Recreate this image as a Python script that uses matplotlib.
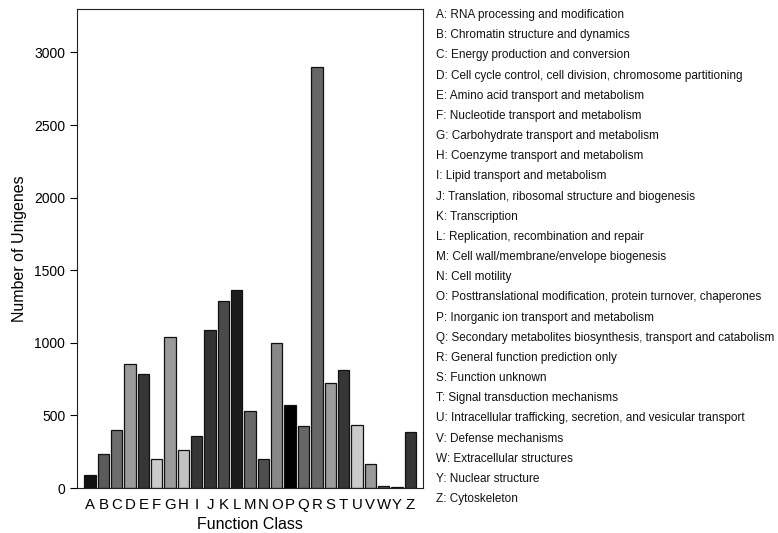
import matplotlib.pyplot as plt

plt.rcParams['font.family'] = ['Liberation Sans', 'DejaVu Sans']

# COG function classes
classes = ['A', 'B', 'C', 'D', 'E', 'F', 'G', 'H', 'I', 'J', 'K', 'L', 'M',
           'N', 'O', 'P', 'Q', 'R', 'S', 'T', 'U', 'V', 'W', 'Y', 'Z']
counts = [92, 234, 398, 851, 782, 198, 1037, 265, 359, 1085, 1285, 1366, 529,
          202, 1000, 570, 430, 2897, 720, 816, 432, 168, 14, 7, 388]
greys = ['#111111', '#5a5a5a', '#6c6c6c', '#9a9a9a', '#363636', '#cacaca',
         '#9a9a9a', '#c2c2c2', '#363636', '#333333', '#4a4a4a', '#1c1c1c',
         '#686868', '#4e4e4e', '#888888', '#000000', '#666666', '#666666',
         '#9c9c9c', '#363636', '#cacaca', '#9a9a9a', '#5a5a5a', '#444444',
         '#363636']
descriptions = [
    'RNA processing and modification',
    'Chromatin structure and dynamics',
    'Energy production and conversion',
    'Cell cycle control, cell division, chromosome partitioning',
    'Amino acid transport and metabolism',
    'Nucleotide transport and metabolism',
    'Carbohydrate transport and metabolism',
    'Coenzyme transport and metabolism',
    'Lipid transport and metabolism',
    'Translation, ribosomal structure and biogenesis',
    'Transcription',
    'Replication, recombination and repair',
    'Cell wall/membrane/envelope biogenesis',
    'Cell motility',
    'Posttranslational modification, protein turnover, chaperones',
    'Inorganic ion transport and metabolism',
    'Secondary metabolites biosynthesis, transport and catabolism',
    'General function prediction only',
    'Function unknown',
    'Signal transduction mechanisms',
    'Intracellular trafficking, secretion, and vesicular transport',
    'Defense mechanisms',
    'Extracellular structures',
    'Nuclear structure',
    'Cytoskeleton',
]

fig = plt.figure(figsize=(7.78, 5.33), dpi=100)
ax = fig.add_axes([0.099, 0.0844, 0.445, 0.899])

x = range(len(classes))
ax.bar(x, counts, width=0.85, color=greys, edgecolor='#111111', linewidth=0.9)

ax.set_xlim(-0.975, 24.975)
ax.set_ylim(0, 3300)
ax.set_xticks(list(x))
ax.set_xticklabels(classes, fontsize=10.8)
ax.set_yticks([0, 500, 1000, 1500, 2000, 2500, 3000])
ax.tick_params(axis='y', labelsize=10, length=5, width=0.8, direction='out')
ax.tick_params(axis='x', length=0, pad=7)
for s in ax.spines.values():
    s.set_linewidth(0.8)
    s.set_color('#222222')

ax.set_xlabel('Function Class', fontsize=11.5, labelpad=4)
ax.set_ylabel('Number of Unigenes', fontsize=11.5, labelpad=5)

# class descriptions on the right
y_top = 1 - 15 / 533
step = 20.17 / 533
for i, (c, d) in enumerate(zip(classes, descriptions)):
    fig.text(436 / 778, y_top - i * step, f'{c}: {d}', fontsize=8.45,
             va='center', ha='left', color='#111111')

fig.savefig('out.png', dpi=100)
